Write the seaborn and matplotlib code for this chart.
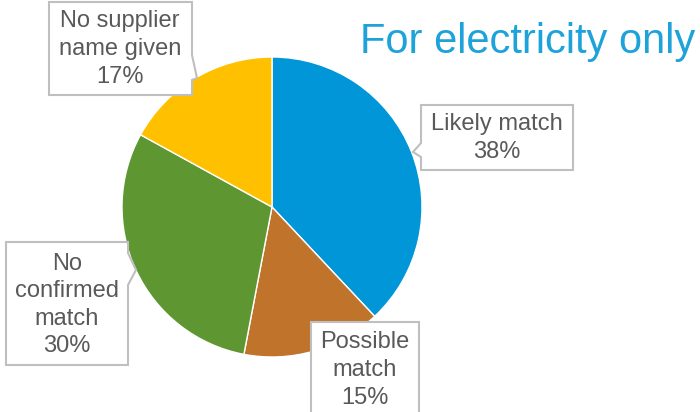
import matplotlib.pyplot as plt
from matplotlib.patches import Polygon
import seaborn as sns

# data
categories = ["Likely match", "Possible match", "No confirmed match", "No supplier name given"]
shares = [38, 15, 30, 17]
label_lines = ["Likely match", "Possible\nmatch", "No\nconfirmed\nmatch", "No supplier\nname given"]
slice_colors = ["#0096D8", "#C0732A", "#5E9732", "#FFC000"]
title = "For electricity only"

sns.set_theme(style="white")
plt.rcParams["font.family"] = ["Liberation Sans", "DejaVu Sans"]

W, H = 700, 412
fig = plt.figure(figsize=(7, 4.12), dpi=100)
ax = fig.add_axes([0, 0, 1, 1])


def py(y):
    # pixel row (from top) -> data y
    return H - y


ax.pie(shares, colors=slice_colors, startangle=90, counterclock=False,
       center=(272, py(207)), radius=150,
       wedgeprops=dict(edgecolor="white", linewidth=1))
ax.set_xlim(0, W)
ax.set_ylim(0, H)
ax.set_aspect("equal")
ax.axis("off")

# callout boxes: outline in pixel coords, text centre
callouts = [
    ([(421, 105), (573, 105), (573, 170), (421, 170), (421, 157), (413, 152), (421, 143)], (497, 138)),
    ([(311, 322), (419, 322), (419, 430), (311, 430)], (365, 370)),
    ([(6, 242), (128, 242), (128, 253), (136, 270), (128, 285), (128, 365), (6, 365)], (67, 305)),
    ([(49, 2), (192, 2), (192, 55), (197, 78), (192, 80), (192, 95), (49, 95)], (120, 49)),
]

for (outline, (tx, ty)), name, share in zip(callouts, label_lines, shares):
    pts = [(x, py(y)) for x, y in outline]
    ax.add_patch(Polygon(pts, closed=True, facecolor="white", edgecolor="#BFBFBF",
                         linewidth=1.5, zorder=3))
    ax.text(tx, py(ty), f"{name}\n{share}%", ha="center", va="center",
            multialignment="center", fontsize=17, linespacing=1.33,
            color="#595959", zorder=4)

ax.text(695, py(53), title, ha="right", va="baseline", fontsize=30, color="#1EA2DA")

fig.savefig("out.png", dpi=100)
